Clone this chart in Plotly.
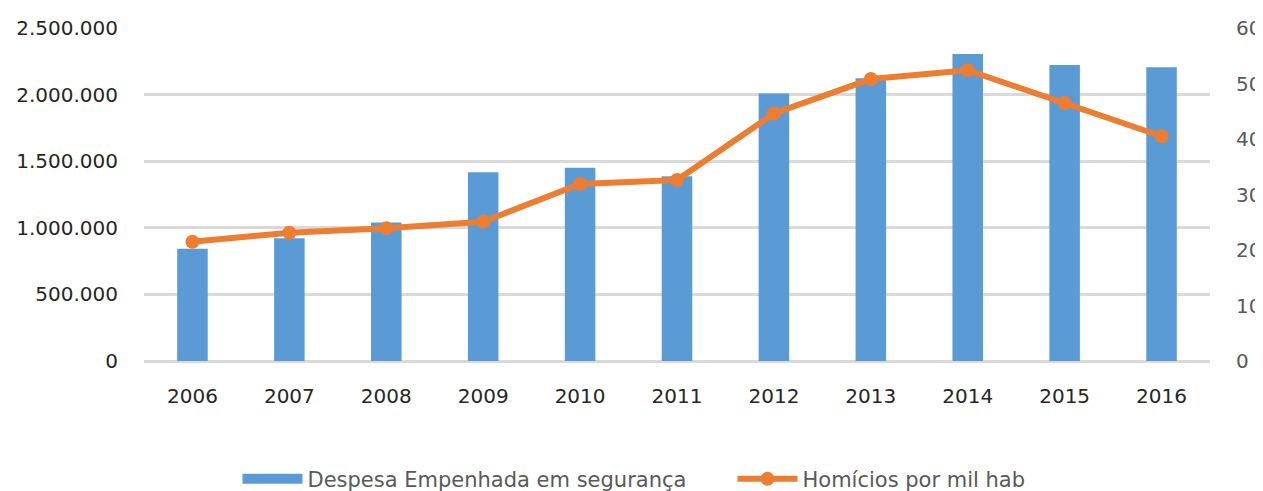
import plotly.graph_objects as go

years = ["2006", "2007", "2008", "2009", "2010", "2011", "2012", "2013", "2014", "2015", "2016"]
despesa = [842000, 922000, 1040000, 1417000, 1450000, 1387000, 2008000, 2123000, 2305000, 2223000, 2206000]
homicidios = [21.5, 23.1, 23.9, 25.1, 31.9, 32.6, 44.6, 50.8, 52.4, 46.5, 40.5]

left_ticks = [0, 500000, 1000000, 1500000, 2000000, 2500000]
right_ticks = [0, 10, 20, 30, 40, 50, 60]

FONT = "DejaVu Sans, sans-serif"
BLUE = "#5B9BD5"
ORANGE = "#ED7D31"

fig = go.Figure()
fig.add_trace(go.Bar(
    x=years, y=despesa, name="Despesa Empenhada em segurança",
    marker=dict(color=BLUE, line=dict(width=0)), yaxis="y", showlegend=False
))
# legend proxy for the bar series (wide rectangle swatch like the original)
fig.add_trace(go.Scatter(
    x=[None], y=[None], name="Despesa Empenhada em segurança", mode="lines",
    line=dict(color=BLUE, width=17), yaxis="y", showlegend=True
))
fig.add_trace(go.Scatter(
    x=years, y=homicidios, name="Homícios por mil hab", mode="lines+markers",
    line=dict(color=ORANGE, width=6), marker=dict(color=ORANGE, size=14),
    yaxis="y2"
))

fig.update_layout(
    width=1255, height=483,
    margin=dict(l=135.5, r=53, t=20, b=129.5, autoexpand=False),
    paper_bgcolor="white", plot_bgcolor="white",
    separators=",.",
    bargap=0.685,
    font=dict(family=FONT, size=20, color="#404040"),
    showlegend=True,
    legend=dict(orientation="h", x=0.0877, xanchor="left", y=-0.355, yanchor="middle",
                font=dict(size=21, color="#595959"), itemwidth=60,
                entrywidth=420, entrywidthmode="pixels",
                bgcolor="rgba(0,0,0,0)", traceorder="normal"),
    xaxis=dict(type="category", range=[-0.5, 10.5], showgrid=False, showline=False, ticks="",
               automargin=False, tickfont=dict(size=20, color="#262626"), ticklabelstandoff=21),
    yaxis=dict(range=[0, 2500000], tickvals=left_ticks, tickformat=",d", automargin=False,
               showgrid=True, gridcolor="#D9D9D9", gridwidth=2.5,
               zeroline=True, zerolinecolor="#D9D9D9", zerolinewidth=2.5,
               showline=False, ticks="", tickfont=dict(size=20, color="#262626"),
               ticklabelstandoff=25),
    yaxis2=dict(range=[0, 60], tickvals=right_ticks, overlaying="y", side="right", automargin=False,
                showgrid=False, zeroline=False, showline=False, ticks="",
                tickfont=dict(size=20, color="#595959"), ticklabelstandoff=25),
)

fig.write_html("out.html")
